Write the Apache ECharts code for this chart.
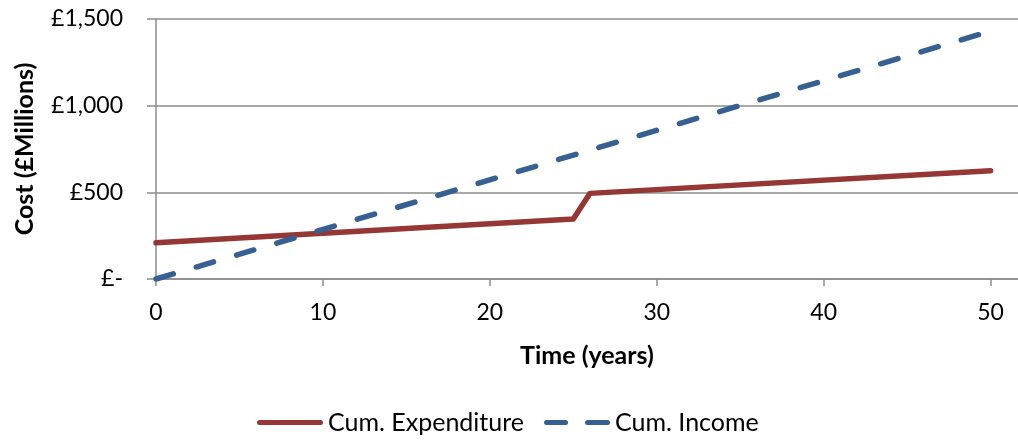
<!DOCTYPE html>
<html>
<head>
<meta charset="utf-8">
<script src="https://cdn.jsdelivr.net/npm/echarts@6/dist/echarts.min.js"></script>
<style>
  html, body { margin: 0; padding: 0; background: #fff; }
  #chart { width: 1018px; height: 444px; }
</style>
</head>
<body>
<div id="chart"></div>
<script>
// Data
const expenditureYears = [0, 25, 26, 50];
const expenditureValues = [209, 346, 494, 625];
const incomeYears = [0, 50];
const incomeValues = [0, 1430];
const xTickValues = [0, 10, 20, 30, 40, 50];
const seriesNames = ['Cum. Expenditure', 'Cum. Income'];

const FONT = 'Lato';
const RED = '#953735';
const BLUE = '#376092';
const GRID_GREY = '#8c8c8c';
const chart = echarts.init(document.getElementById('chart'), null, { renderer: 'canvas' });

function pairs(xs, ys) { return xs.map((x, i) => [x, ys[i]]); }

const solidIcon = 'path://M2.5,0 H63.5 A2.5,2.5 0 0 1 63.5,5 H2.5 A2.5,2.5 0 0 1 2.5,0 Z';
const dashIcon = 'path://M2.5,0 H21.5 A2.5,2.5 0 0 1 21.5,5 H2.5 A2.5,2.5 0 0 1 2.5,0 Z M43.5,0 H63.5 A2.5,2.5 0 0 1 63.5,5 H43.5 A2.5,2.5 0 0 1 43.5,0 Z';

chart.setOption({
  animation: false,
  backgroundColor: '#ffffff',
  textStyle: { fontFamily: FONT },
  grid: { left: 156, right: 0, top: 19, bottom: 165, containLabel: false },
  xAxis: {
    type: 'value',
    min: 0,
    max: 51.64,
    name: 'Time (years)',
    nameLocation: 'middle',
    nameGap: 64,
    nameTextStyle: { fontFamily: FONT, fontSize: 25, fontWeight: 'bold', color: '#000' },
    axisLine: { show: true, lineStyle: { color: GRID_GREY, width: 1.5 } },
    axisTick: { show: true, length: 7, inside: false, customValues: xTickValues, lineStyle: { color: GRID_GREY, width: 1.5 } },
    axisLabel: { customValues: xTickValues, fontFamily: FONT, fontSize: 23, color: '#000', margin: 22 },
    splitLine: { show: false }
  },
  yAxis: {
    type: 'value',
    min: 0,
    max: 1500,
    interval: 500,
    name: 'Cost (£Millions)',
    nameLocation: 'middle',
    nameRotate: 90,
    nameGap: 119,
    nameTextStyle: { fontFamily: FONT, fontSize: 25, fontWeight: 'bold', color: '#000' },
    axisLine: { show: true, lineStyle: { color: GRID_GREY, width: 1.5 } },
    axisTick: { show: true, length: 9, lineStyle: { color: GRID_GREY, width: 1.5 } },
    axisLabel: {
      fontFamily: FONT, fontSize: 23, color: '#000', margin: 33,
      formatter: v => v === 0 ? '£-' : '£' + v.toLocaleString('en-GB')
    },
    splitLine: { show: true, lineStyle: { color: GRID_GREY, width: 1.5 } }
  },
  legend: {
    top: 410,
    left: 257,
    padding: 0,
    itemWidth: 66,
    itemHeight: 5,
    itemGap: 20,
    textStyle: { fontFamily: FONT, fontSize: 25, color: '#000' },
    data: [
      { name: seriesNames[0], icon: solidIcon, itemStyle: { color: RED } },
      { name: seriesNames[1], icon: dashIcon, itemStyle: { color: BLUE } }
    ]
  },
  series: [
    {
      name: seriesNames[0],
      type: 'line',
      data: pairs(expenditureYears, expenditureValues),
      symbol: 'none',
      lineStyle: { color: RED, width: 5.5, cap: 'round', join: 'round' },
      itemStyle: { color: RED }
    },
    {
      name: seriesNames[1],
      type: 'line',
      data: pairs(incomeYears, incomeValues),
      symbol: 'none',
      lineStyle: { color: BLUE, width: 5.5, type: [18, 24], cap: 'round', join: 'round' },
      itemStyle: { color: BLUE }
    }
  ]
});
</script>
</body>
</html>
